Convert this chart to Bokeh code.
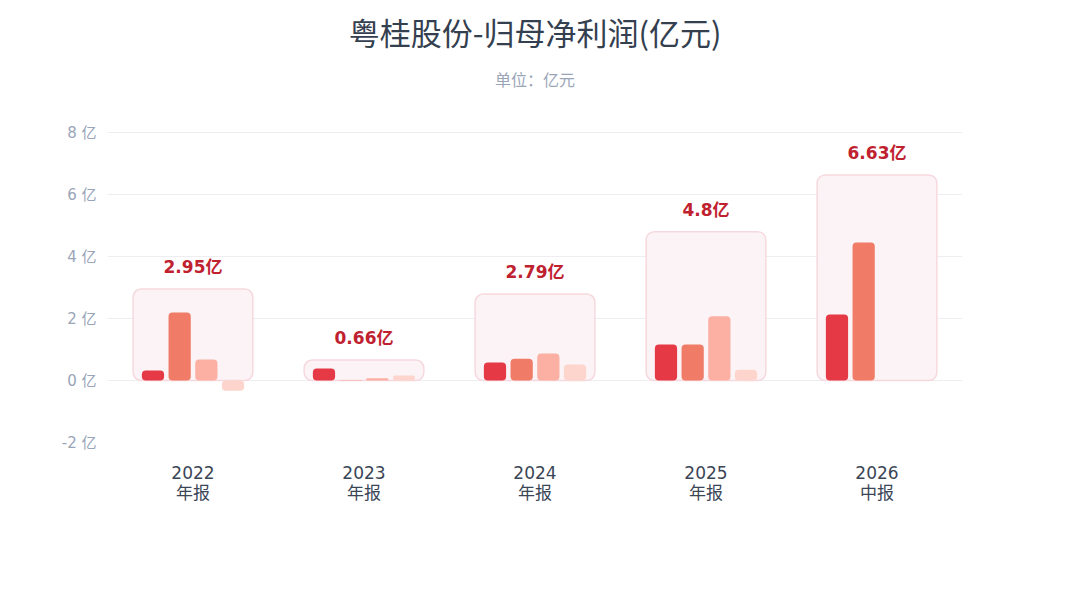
from bokeh.plotting import figure
from bokeh.models import Title, Legend, LegendItem, ColumnDataSource, FixedTicker, Range1d
from bokeh.core.properties import value
from bokeh.embed import file_html
from bokeh.resources import INLINE

periods = ["2022", "2023", "2024", "2025", "2026"]
period_kinds = ["年报", "年报", "年报", "年报", "中报"]
annual = [2.95, 0.66, 2.79, 4.8, 6.63]
q1 = [0.32, 0.39, 0.58, 1.16, 2.13]
q2 = [2.19, -0.01, 0.70, 1.16, 4.45]
q3 = [0.68, 0.07, 0.87, 2.07, 0.0]
q4 = [-0.33, 0.16, 0.52, 0.35, 0.0]
series_names = ["一季度", "二季度", "三季度", "四季度"]
colors = ["#e63946", "#f07b67", "#fcb0a3", "#fdd5cc"]
yticks = [-2, 0, 2, 4, 6, 8]

FONT = "DejaVu Sans, Noto Sans CJK SC"
TFONT = "Noto Sans CJK SC"
xs = list(range(len(periods)))

p = figure(frame_width=855, frame_height=341, min_border_left=107, min_border_right=102,
           min_border_top=101, min_border_bottom=142,
           x_range=Range1d(-0.5, 4.5), y_range=Range1d(-2, 9),
           output_backend="svg", toolbar_location=None,
           background_fill_color="white", border_fill_color="white", outline_line_color=None)

p.add_layout(Title(text="单位：亿元", align="center", text_font=TFONT, text_font_size="16px",
                   text_color="#9aa5b8", text_font_style="normal", standoff=22), "above")
p.add_layout(Title(text="粤桂股份-归母净利润(亿元)", align="center", text_font=TFONT,
                   text_font_size="31px", text_color="#34404f", text_font_style="normal",
                   standoff=0), "above")
p.title.visible = False

src_a = ColumnDataSource(dict(x=xs, top=annual, lab=[f"{v:g}亿" for v in annual]))
p.vbar(x="x", top="top", bottom=0, width=0.70, source=src_a, fill_color="#fbf3f5",
       line_color="#f6d9de", line_width=1.5, border_radius=8)
p.text(x="x", y="top", text="lab", source=src_a, text_align="center", text_baseline="bottom",
       y_offset=-12, text_font=value(FONT), text_font_size="17px", text_font_style="bold",
       text_color="#c0212f")

offsets = [-0.234, -0.078, 0.078, 0.234]
for vals, off, c in zip([q1, q2, q3, q4], offsets, colors):
    s = ColumnDataSource(dict(x=[x + off for x in xs], top=vals))
    p.vbar(x="x", top="top", bottom=0, width=0.13, source=s, fill_color=c, line_color=None,
           border_radius=4)

leg_items = []
for name, c in zip(["年度"] + series_names, ["#fbf0f2"] + colors):
    sr = p.scatter(x=[-10], y=[-10], size=13, marker="circle", fill_color=c, line_color=None)
    leg_items.append(LegendItem(label=name, renderers=[sr]))
legend = Legend(items=leg_items, orientation="horizontal", location="center",
                label_text_font=FONT, label_text_font_size="17px", label_text_color="#3a4556",
                border_line_color=None, background_fill_alpha=0, glyph_width=14,
                spacing=10, label_standoff=5, margin=0, padding=0)
p.add_layout(legend, "below")
legend.margin = 48

p.yaxis.ticker = FixedTicker(ticks=yticks)
p.yaxis.major_label_overrides = {t: f"{t} 亿" for t in yticks}
p.xaxis.ticker = FixedTicker(ticks=xs)
p.xaxis.major_label_overrides = {i: f"{a}\n{b}" for i, (a, b) in enumerate(zip(periods, period_kinds))}
for ax in (p.xaxis, p.yaxis):
    ax.axis_line_color = None
    ax.major_tick_line_color = None
    ax.minor_tick_line_color = None
    ax.major_label_text_font = FONT
p.yaxis.major_label_text_font_size = "15px"
p.yaxis.major_label_text_color = "#9aa5b8"
p.xaxis.major_label_text_font_size = "17px"
p.xaxis.major_label_text_line_height = 1.0
p.xaxis.major_label_text_color = "#3a4556"
p.xaxis.major_label_standoff = 14
p.xgrid.grid_line_color = None
p.ygrid.grid_line_color = "#eeeef2"

open("out.html", "w").write(file_html(p, INLINE))
